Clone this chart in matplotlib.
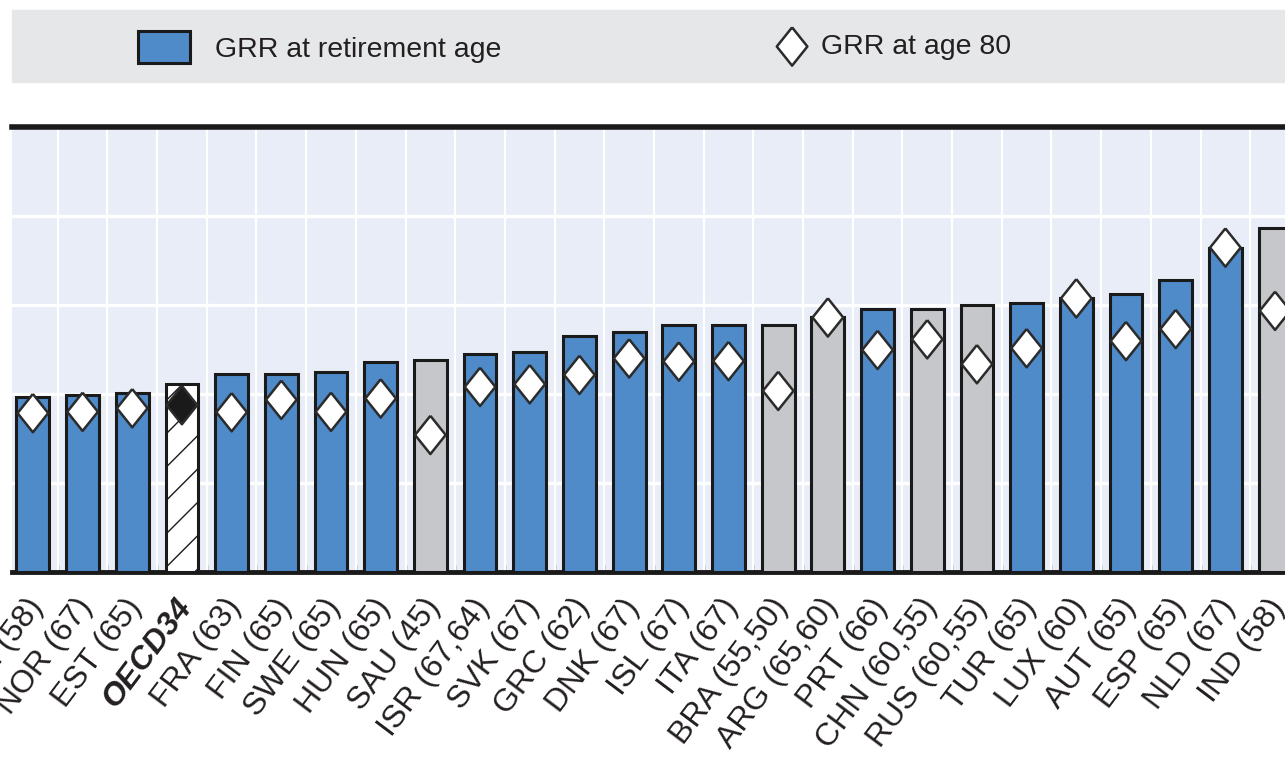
import numpy as np
import matplotlib.pyplot as plt
from matplotlib.patches import Rectangle
from matplotlib.transforms import ScaledTranslation

# country (pensionable age), sorted by GRR at retirement age
countries = ["SVN (58)", "NOR (67)", "EST (65)", "OECD34", "FRA (63)", "FIN (65)",
             "SWE (65)", "HUN (65)", "SAU (45)", "ISR (67,64)", "SVK (67)", "GRC (62)",
             "DNK (67)", "ISL (67)", "ITA (67)", "BRA (55,50)", "ARG (65,60)", "PRT (66)",
             "CHN (60,55)", "RUS (60,55)", "TUR (65)", "LUX (60)", "AUT (65)", "ESP (65)",
             "NLD (67)", "IND (58)"]
grr_retirement = [39.4, 39.8, 40.2, 42.2, 44.4, 44.4, 44.9, 47.1, 47.6, 49.0, 49.4, 53.0,
                  54.0, 55.4, 55.4, 55.4, 57.2, 59.1, 59.1, 60.1, 60.5, 61.5, 62.5, 65.6,
                  72.7, 77.4]
grr_age80 = [35.7, 36.0, 36.8, 37.5, 35.9, 38.7, 36.0, 39.0, 30.8, 41.6, 42.2, 44.3,
             48.0, 47.3, 47.4, 40.7, 57.2, 49.9, 52.3, 46.7, 50.3, 61.5, 51.9, 54.6,
             72.9, 58.7]
group = ["oecd", "oecd", "oecd", "avg", "oecd", "oecd", "oecd", "oecd", "partner", "oecd",
         "oecd", "oecd", "oecd", "oecd", "oecd", "partner", "partner", "oecd", "partner",
         "partner", "oecd", "oecd", "oecd", "oecd", "oecd", "partner"]

bar_colors = {"oecd": "#4F8AC9", "partner": "#C5C7CA", "avg": "white"}

W, H = 1285, 774
fig = plt.figure(figsize=(W / 100, H / 100), dpi=100)
ax = fig.add_axes([12 / W, 1 - 572 / H, 1 - 12 / W, (572 - 127) / H])
ax.set_facecolor("#E8EDF7")

x = np.arange(len(countries))
bars = ax.bar(x, grr_retirement, width=0.66,
              color=[bar_colors[g] for g in group],
              edgecolor="#1a1a1a", linewidth=2.2, zorder=3)
for b, g in zip(bars, group):
    if g == "avg":
        b.set_hatch("/")

diamond = [(0, 1), (0.8, 0), (0, -1), (-0.8, 0), (0, 1)]
sc = ax.scatter(x, grr_age80, marker=diamond, s=760,
                facecolors=["#1a1a1a" if g == "avg" else "white" for g in group],
                edgecolors="#2b2b2b", linewidths=1.8, zorder=4)

ax.set_xlim(-0.42, len(countries) - 1 + 0.2)
ax.set_ylim(0, 100)

# grid
ax.set_yticks([20, 40, 60, 80])
ax.tick_params(axis="y", length=0, labelleft=False)
ax.grid(axis="y", color="white", linewidth=2.4, zorder=1)
for b in x[:-1] + 0.5:
    ax.axvline(b, color="white", linewidth=1.6, zorder=1)
ax.set_axisbelow(True)

ax.set_xticks(x)
ax.set_xticks(x[:-1] + 0.5, minor=True)
ax.tick_params(axis="x", which="major", length=0, pad=15)
ax.tick_params(axis="x", which="minor", direction="in", length=5, width=1, color="#333333")
ax.set_xticklabels(countries, rotation=53, ha="right", va="top", rotation_mode="anchor",
                   fontsize=23, family=["Liberation Sans", "DejaVu Sans"], color="#231F20")
shift = ScaledTranslation(-8 / 100, 0, fig.dpi_scale_trans)
for lab, g in zip(ax.get_xticklabels(), group):
    lab.set_transform(lab.get_transform() + shift)
    if g == "avg":
        lab.set_fontweight("bold")
        lab.set_fontstyle("italic")

for s in ["left", "right"]:
    ax.spines[s].set_visible(False)
ax.spines["top"].set_linewidth(4)
ax.spines["bottom"].set_linewidth(3.5)
ax.spines["top"].set_color("#1a1a1a")
ax.spines["bottom"].set_color("#1a1a1a")

# legend band
fig.patches.append(Rectangle((12 / W, 1 - 82 / H), 1 - 12 / W, 72 / H,
                             transform=fig.transFigure, color="#E6E7E8", zorder=0))
leg_font = {"family": ["Liberation Sans Narrow", "Liberation Sans", "DejaVu Sans"], "size": 20.5}
fig.legend([bars], ["GRR at retirement age"], loc="center left",
           bbox_to_anchor=(138 / W, 1 - 47 / H), frameon=False, borderpad=0,
           borderaxespad=0, handlelength=1.83, handleheight=1.3, handletextpad=0.87,
           prop=leg_font, labelcolor="#231F20")
fig.legend([sc], ["GRR at age 80"], loc="center left",
           bbox_to_anchor=(776 / W, 1 - 47 / H), frameon=False, borderpad=0,
           borderaxespad=0, handlelength=1.13, handletextpad=0.46,
           prop=leg_font, labelcolor="#231F20")

fig.savefig("out.png", dpi=100)
